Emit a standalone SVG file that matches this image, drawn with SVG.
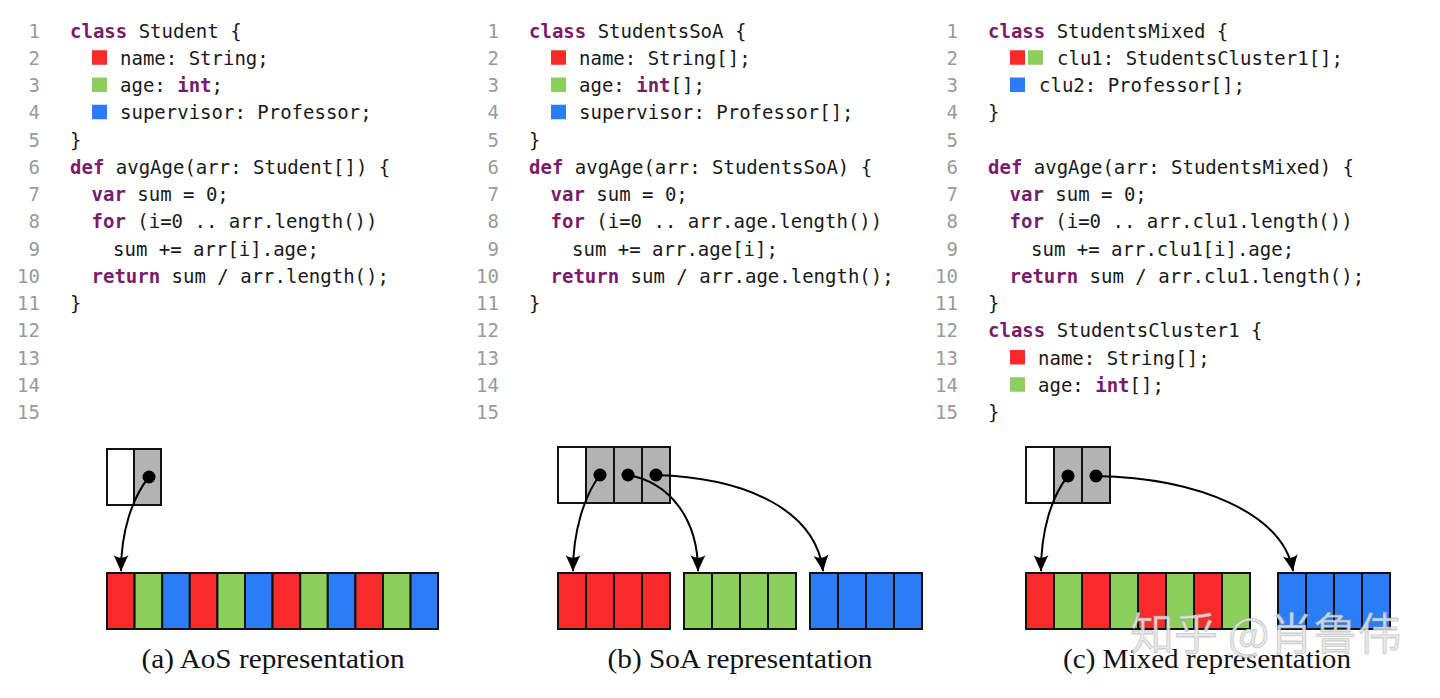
<svg xmlns="http://www.w3.org/2000/svg" width="1440" height="698" viewBox="0 0 1440 698">
<style>
.c{font-family:"DejaVu Sans Mono","Liberation Mono",monospace;font-size:19px;fill:#1a1a1a}
.k{font-weight:bold;fill:#7a1c6a}
.n{font-family:"DejaVu Sans Mono","Liberation Mono",monospace;font-size:19px;fill:#9a9a9a;text-anchor:end}
.r{fill:#f82a2a}
.g{fill:#8ccf5c}
.b{fill:#2b7df7}
.cell{stroke:#111;stroke-width:2}
.gr{fill:#b3b3b3;stroke:#111;stroke-width:2}
.wh{fill:#fff;stroke:#111;stroke-width:2}
.cap{font-family:"Liberation Serif","DejaVu Serif",serif;font-size:28px;fill:#111;text-anchor:middle}
.ln{fill:none;stroke:#000;stroke-width:2}
.dot{fill:#000}
</style>
<defs>
<marker id="ah" viewBox="-17 -9 19 18" refX="0" refY="0" markerWidth="19" markerHeight="18" orient="auto" markerUnits="userSpaceOnUse">
<path d="M1,0 C-4,-1.8 -10,-4.5 -16,-7.5 C-12.5,-3 -12.5,3 -16,7.5 C-10,4.5 -4,1.8 1,0 Z" fill="#000"/>
</marker>
</defs>
<rect width="1440" height="698" fill="#fff"/>

<g id="code-a">
<text class="n" x="40" y="37.5">1</text><text class="n" x="40" y="64.75">2</text><text class="n" x="40" y="92">3</text><text class="n" x="40" y="119.25">4</text><text class="n" x="40" y="146.5">5</text><text class="n" x="40" y="173.75">6</text><text class="n" x="40" y="201">7</text><text class="n" x="40" y="228.25">8</text><text class="n" x="40" y="255.5">9</text><text class="n" x="40" y="282.75">10</text><text class="n" x="40" y="310">11</text><text class="n" x="40" y="337.25">12</text><text class="n" x="40" y="364.5">13</text><text class="n" x="40" y="391.75">14</text><text class="n" x="40" y="419">15</text>
<text class="c" x="70" y="37.5"><tspan class="k">class</tspan> Student {</text>
<rect class="r" x="92" y="50.25" width="15" height="14.5"/><text class="c" x="120" y="64.75">name: String;</text>
<rect class="g" x="92" y="77.5" width="15" height="14.5"/><text class="c" x="120" y="92">age: <tspan class="k">int</tspan>;</text>
<rect class="b" x="92" y="104.75" width="15" height="14.5"/><text class="c" x="120" y="119.25">supervisor: Professor;</text>
<text class="c" x="70" y="146.5">}</text>
<text class="c" x="70" y="173.75"><tspan class="k">def</tspan> avgAge(arr: Student[]) {</text>
<text class="c" x="91.5" y="201"><tspan class="k">var</tspan> sum = 0;</text>
<text class="c" x="91.5" y="228.25"><tspan class="k">for</tspan> (i=0 .. arr.length())</text>
<text class="c" x="113" y="255.5">sum += arr[i].age;</text>
<text class="c" x="91.5" y="282.75"><tspan class="k">return</tspan> sum / arr.length();</text>
<text class="c" x="70" y="310">}</text>
</g>

<g id="code-b">
<text class="n" x="499" y="37.5">1</text><text class="n" x="499" y="64.75">2</text><text class="n" x="499" y="92">3</text><text class="n" x="499" y="119.25">4</text><text class="n" x="499" y="146.5">5</text><text class="n" x="499" y="173.75">6</text><text class="n" x="499" y="201">7</text><text class="n" x="499" y="228.25">8</text><text class="n" x="499" y="255.5">9</text><text class="n" x="499" y="282.75">10</text><text class="n" x="499" y="310">11</text><text class="n" x="499" y="337.25">12</text><text class="n" x="499" y="364.5">13</text><text class="n" x="499" y="391.75">14</text><text class="n" x="499" y="419">15</text>
<text class="c" x="529" y="37.5"><tspan class="k">class</tspan> StudentsSoA {</text>
<rect class="r" x="551" y="50.25" width="15" height="14.5"/><text class="c" x="579" y="64.75">name: String[];</text>
<rect class="g" x="551" y="77.5" width="15" height="14.5"/><text class="c" x="579" y="92">age: <tspan class="k">int</tspan>[];</text>
<rect class="b" x="551" y="104.75" width="15" height="14.5"/><text class="c" x="579" y="119.25">supervisor: Professor[];</text>
<text class="c" x="529" y="146.5">}</text>
<text class="c" x="529" y="173.75"><tspan class="k">def</tspan> avgAge(arr: StudentsSoA) {</text>
<text class="c" x="550.5" y="201"><tspan class="k">var</tspan> sum = 0;</text>
<text class="c" x="550.5" y="228.25"><tspan class="k">for</tspan> (i=0 .. arr.age.length())</text>
<text class="c" x="572" y="255.5">sum += arr.age[i];</text>
<text class="c" x="550.5" y="282.75"><tspan class="k">return</tspan> sum / arr.age.length();</text>
<text class="c" x="529" y="310">}</text>
</g>

<g id="code-c">
<text class="n" x="958" y="37.5">1</text><text class="n" x="958" y="64.75">2</text><text class="n" x="958" y="92">3</text><text class="n" x="958" y="119.25">4</text><text class="n" x="958" y="146.5">5</text><text class="n" x="958" y="173.75">6</text><text class="n" x="958" y="201">7</text><text class="n" x="958" y="228.25">8</text><text class="n" x="958" y="255.5">9</text><text class="n" x="958" y="282.75">10</text><text class="n" x="958" y="310">11</text><text class="n" x="958" y="337.25">12</text><text class="n" x="958" y="364.5">13</text><text class="n" x="958" y="391.75">14</text><text class="n" x="958" y="419">15</text>
<text class="c" x="988" y="37.5"><tspan class="k">class</tspan> StudentsMixed {</text>
<rect class="r" x="1010" y="50.25" width="15" height="14.5"/><rect class="g" x="1028" y="50.25" width="15" height="14.5"/><text class="c" x="1057" y="64.75">clu1: StudentsCluster1[];</text>
<rect class="b" x="1010" y="77.5" width="15" height="14.5"/><text class="c" x="1039" y="92">clu2: Professor[];</text>
<text class="c" x="988" y="119.25">}</text>
<text class="c" x="988" y="173.75"><tspan class="k">def</tspan> avgAge(arr: StudentsMixed) {</text>
<text class="c" x="1009.5" y="201"><tspan class="k">var</tspan> sum = 0;</text>
<text class="c" x="1009.5" y="228.25"><tspan class="k">for</tspan> (i=0 .. arr.clu1.length())</text>
<text class="c" x="1031" y="255.5">sum += arr.clu1[i].age;</text>
<text class="c" x="1009.5" y="282.75"><tspan class="k">return</tspan> sum / arr.clu1.length();</text>
<text class="c" x="988" y="310">}</text>
<text class="c" x="988" y="337.25"><tspan class="k">class</tspan> StudentsCluster1 {</text>
<rect class="r" x="1010" y="350" width="15" height="14.5"/><text class="c" x="1038" y="364.5">name: String[];</text>
<rect class="g" x="1010" y="377.25" width="15" height="14.5"/><text class="c" x="1038" y="391.75">age: <tspan class="k">int</tspan>[];</text>
<text class="c" x="988" y="419">}</text>
</g>

<g id="aos-pointer">
<rect class="wh" x="107" y="449" width="27" height="56"/>
<rect class="gr" x="134" y="449" width="27" height="56"/>
</g>
<g id="aos-array">
<rect class="cell r" x="107" y="573" width="27.6" height="56"/>
<rect class="cell g" x="134.6" y="573" width="27.6" height="56"/>
<rect class="cell b" x="162.2" y="573" width="27.6" height="56"/>
<rect class="cell r" x="189.8" y="573" width="27.6" height="56"/>
<rect class="cell g" x="217.4" y="573" width="27.6" height="56"/>
<rect class="cell b" x="245" y="573" width="27.6" height="56"/>
<rect class="cell r" x="272.6" y="573" width="27.6" height="56"/>
<rect class="cell g" x="300.2" y="573" width="27.6" height="56"/>
<rect class="cell b" x="327.8" y="573" width="27.6" height="56"/>
<rect class="cell r" x="355.4" y="573" width="27.6" height="56"/>
<rect class="cell g" x="383" y="573" width="27.6" height="56"/>
<rect class="cell b" x="410.6" y="573" width="27.4" height="56"/>
</g>
<text id="cap-a" class="cap" x="273" y="668" textLength="263" lengthAdjust="spacingAndGlyphs">(a) AoS representation</text>

<g id="soa-pointer">
<rect class="wh" x="558" y="447" width="28" height="56"/>
<rect class="gr" x="586" y="447" width="28" height="56"/>
<rect class="gr" x="614" y="447" width="28" height="56"/>
<rect class="gr" x="642" y="447" width="28" height="56"/>
</g>
<g id="soa-name">
<rect class="cell r" x="558" y="573" width="28" height="56"/><rect class="cell r" x="586" y="573" width="28" height="56"/><rect class="cell r" x="614" y="573" width="28" height="56"/><rect class="cell r" x="642" y="573" width="28" height="56"/>
</g>
<g id="soa-age">
<rect class="cell g" x="684" y="573" width="28" height="56"/><rect class="cell g" x="712" y="573" width="28" height="56"/><rect class="cell g" x="740" y="573" width="28" height="56"/><rect class="cell g" x="768" y="573" width="28" height="56"/>
</g>
<g id="soa-supervisor">
<rect class="cell b" x="810" y="573" width="28" height="56"/><rect class="cell b" x="838" y="573" width="28" height="56"/><rect class="cell b" x="866" y="573" width="28" height="56"/><rect class="cell b" x="894" y="573" width="28" height="56"/>
</g>
<text id="cap-b" class="cap" x="740" y="668" textLength="265" lengthAdjust="spacingAndGlyphs">(b) SoA representation</text>

<g id="mixed-pointer">
<rect class="wh" x="1026" y="447" width="28" height="56"/>
<rect class="gr" x="1054" y="447" width="28" height="56"/>
<rect class="gr" x="1082" y="447" width="28" height="56"/>
</g>
<g id="mixed-clu1">
<rect class="cell r" x="1026" y="573" width="28" height="56"/><rect class="cell g" x="1054" y="573" width="28" height="56"/><rect class="cell r" x="1082" y="573" width="28" height="56"/><rect class="cell g" x="1110" y="573" width="28" height="56"/><rect class="cell r" x="1138" y="573" width="28" height="56"/><rect class="cell g" x="1166" y="573" width="28" height="56"/><rect class="cell r" x="1194" y="573" width="28" height="56"/><rect class="cell g" x="1222" y="573" width="28" height="56"/>
</g>
<g id="mixed-clu2">
<rect class="cell b" x="1278" y="573" width="28" height="56"/><rect class="cell b" x="1306" y="573" width="28" height="56"/><rect class="cell b" x="1334" y="573" width="28" height="56"/><rect class="cell b" x="1362" y="573" width="28" height="56"/>
</g>

<g id="connectors">
<path class="ln" d="M149,477 C132,498 121,532 121,571" marker-end="url(#ah)"/>
<path class="ln" d="M600,475 C584,496 573,532 573,571" marker-end="url(#ah)"/>
<path class="ln" d="M628,475 C668,482 698,517 698,571" marker-end="url(#ah)"/>
<path class="ln" d="M656,475 C750,478 816,512 823,571" marker-end="url(#ah)"/>
<path class="ln" d="M1068,476 C1051,497 1041,532 1041,571" marker-end="url(#ah)"/>
<path class="ln" d="M1096,476 C1200,478 1283,514 1293,571" marker-end="url(#ah)"/>
<circle class="dot" cx="149" cy="477" r="6.5"/>
<circle class="dot" cx="600" cy="475" r="6.5"/>
<circle class="dot" cx="628" cy="475" r="6.5"/>
<circle class="dot" cx="656" cy="475" r="6.5"/>
<circle class="dot" cx="1068" cy="476" r="6.5"/>
<circle class="dot" cx="1096" cy="476" r="6.5"/>
</g>

<text id="cap-c" class="cap" x="1207" y="668" textLength="288" lengthAdjust="spacingAndGlyphs">(c) Mixed representation</text>
<text id="watermark" x="1130" y="650" font-family="'Noto Sans CJK SC',sans-serif" font-size="44" fill="#e6e6e6" fill-opacity="0.85" stroke="#9a9a9a" stroke-opacity="0.5" stroke-width="0.8">知乎 @肖鲁伟</text>
</svg>
